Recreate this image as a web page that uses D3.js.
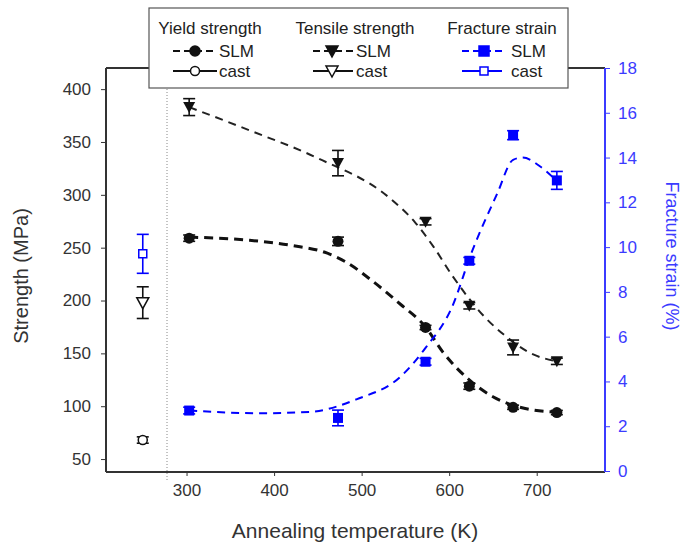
<!DOCTYPE html>
<html>
<head>
<meta charset="utf-8">
<script src="https://cdn.jsdelivr.net/npm/d3@7"></script>
<style>
  body { margin: 0; background: #fff; }
  text { font-family: Arial, "Liberation Sans", sans-serif; }
</style>
</head>
<body>
<script>
// annealed SLM samples
const temps = [303, 473, 573, 623, 673, 723];
const yieldSLM = [259, 256, 174.5, 119, 99, 94];
const yieldErr = [3, 4, 2, 3, 2, 2];
const tensileSLM = [383, 330, 274.5, 195, 155.6, 142.5];
const tensileErr = [8, 12, 3, 3, 7, 3];
const strainSLM = [2.7, 2.37, 4.88, 9.39, 15.0, 12.98];
const strainErr = [0.15, 0.35, 0.15, 0.15, 0.2, 0.4];

// cast reference, plotted at 250 K
const castT = 250;
const yieldCast = 68, yieldCastErr = 3;
const tensileCast = 198, tensileCastErr = 15;
const strainCast = 9.7, strainCastErr = 0.87;

// dashed fit curves
const yieldFit = [[303,260],[372,257],[421,252],[460,245],[483,236],[513,218],[545,196],[573,175],[593,151],[620,127],[650,109],[692,97],[723,94.5]];
const tensileFit = [[303,383],[372,361],[449,335],[532,297],[561,274],[582,251],[604,223],[641,184],[662,168],[696,149],[723,142.5]];
const strainFit = [[303,2.7],[384,2.58],[441,2.64],[494,3.2],[544,4.2],[573,5.5],[603,7.3],[626,9.8],[655,12.4],[673,13.9],[684,14.0],[704,13.6],[723,12.95]];

const xTicks = [300, 400, 500, 600, 700];
const yTicks = [50, 100, 150, 200, 250, 300, 350, 400];
const rTicks = [0, 2, 4, 6, 8, 10, 12, 14, 16, 18];

const BLUE = '#0000ff';
const AXBLUE = '#3b3bff';

const svg = d3.select('body').append('svg')
    .attr('width', 683)
    .attr('height', 548);

const L = 106, R = 605, T = 68, B = 471;

const x = d3.scaleLinear().domain([208, 778]).range([L, R]);
const y = d3.scaleLinear().domain([38.7, 420]).range([B, T]);
const y2 = d3.scaleLinear().domain([0, 18]).range([B, T]);

// dotted break line
svg.append('line')
    .attr('x1', 167).attr('x2', 167)
    .attr('y1', T).attr('y2', B + 10)
    .attr('stroke', '#888').attr('stroke-width', 1)
    .attr('stroke-dasharray', '1,2');

// axes
const gx = svg.append('g').attr('transform', `translate(0,${B})`)
    .call(d3.axisBottom(x).tickValues(xTicks).tickSize(5).tickSizeOuter(0).tickPadding(8));
const gy = svg.append('g').attr('transform', `translate(${L},0)`)
    .call(d3.axisLeft(y).tickValues(yTicks).tickSize(5).tickSizeOuter(0).tickPadding(10));
const gr = svg.append('g').attr('transform', `translate(${R},0)`)
    .call(d3.axisRight(y2).tickValues(rTicks).tickSize(5).tickSizeOuter(0).tickPadding(8));

[gx, gy, gr].forEach(g => {
    g.select('.domain').remove();
    g.selectAll('text').style('font-size', '17px');
});
gx.selectAll('line').attr('stroke', '#333');
gy.selectAll('line').attr('stroke', '#333');
gx.selectAll('text').attr('fill', '#333');
gy.selectAll('text').attr('fill', '#333');
gr.selectAll('line').attr('stroke', AXBLUE);
gr.selectAll('text').attr('fill', AXBLUE);

// frame
svg.append('line').attr('x1', L).attr('x2', L).attr('y1', T).attr('y2', B + 1)
    .attr('stroke', '#333').attr('stroke-width', 2);
svg.append('line').attr('x1', L).attr('x2', R).attr('y1', B + 1).attr('y2', B + 1)
    .attr('stroke', '#333').attr('stroke-width', 2);
svg.append('line').attr('x1', L).attr('x2', R).attr('y1', T).attr('y2', T)
    .attr('stroke', '#333').attr('stroke-width', 2);
svg.append('line').attr('x1', R).attr('x2', R).attr('y1', T).attr('y2', B + 1)
    .attr('stroke', AXBLUE).attr('stroke-width', 2);

// axis titles
svg.append('text')
    .attr('transform', 'translate(28,276) rotate(-90)')
    .attr('text-anchor', 'middle')
    .style('font-size', '20px').attr('fill', '#333')
    .text('Strength (MPa)');
svg.append('text')
    .attr('transform', 'translate(666,256) rotate(90)')
    .attr('text-anchor', 'middle')
    .style('font-size', '18px').attr('fill', AXBLUE)
    .text('Fracture strain (%)');
svg.append('text')
    .attr('x', 355).attr('y', 538)
    .attr('text-anchor', 'middle')
    .style('font-size', '21px').attr('fill', '#333')
    .text('Annealing temperature (K)');

// fit curves
const lineL = d3.line().x(d => x(d[0])).y(d => y(d[1])).curve(d3.curveMonotoneX);
const lineR = d3.line().x(d => x(d[0])).y(d => y2(d[1])).curve(d3.curveMonotoneX);

svg.append('path').attr('d', lineL(yieldFit))
    .attr('fill', 'none').attr('stroke', '#111').attr('stroke-width', 3)
    .attr('stroke-dasharray', '9,6');
svg.append('path').attr('d', lineL(tensileFit))
    .attr('fill', 'none').attr('stroke', '#222').attr('stroke-width', 2)
    .attr('stroke-dasharray', '8,6');
svg.append('path').attr('d', lineR(strainFit))
    .attr('fill', 'none').attr('stroke', BLUE).attr('stroke-width', 2)
    .attr('stroke-dasharray', '8,6');

// error bars
function errBars(vals, errs, scale, color, xs) {
    const g = svg.append('g').attr('stroke', color).attr('stroke-width', 1.6);
    vals.forEach((v, i) => {
        const cx = x(xs[i]);
        const y0 = scale(v - errs[i]), y1 = scale(v + errs[i]);
        g.append('line').attr('x1', cx).attr('x2', cx).attr('y1', y0).attr('y2', y1);
        g.append('line').attr('x1', cx - 6).attr('x2', cx + 6).attr('y1', y0).attr('y2', y0);
        g.append('line').attr('x1', cx - 6).attr('x2', cx + 6).attr('y1', y1).attr('y2', y1);
    });
}
errBars(yieldSLM, yieldErr, y, '#111', temps);
errBars(tensileSLM, tensileErr, y, '#111', temps);
errBars(strainSLM, strainErr, y2, BLUE, temps);
errBars([yieldCast], [yieldCastErr], y, '#111', [castT]);
errBars([tensileCast], [tensileCastErr], y, '#111', [castT]);
errBars([strainCast], [strainCastErr], y2, BLUE, [castT]);

// markers
const triDown = 'M-6,-5L6,-5L0,6Z';
const sq = 'M-5,-5L5,-5L5,5L-5,5Z';

svg.selectAll('.ys').data(yieldSLM).enter().append('circle')
    .attr('cx', (d, i) => x(temps[i])).attr('cy', d => y(d))
    .attr('r', 5.5).attr('fill', '#111');
svg.selectAll('.ts').data(tensileSLM).enter().append('path')
    .attr('d', triDown)
    .attr('transform', (d, i) => `translate(${x(temps[i])},${y(d)})`)
    .attr('fill', '#111');
svg.selectAll('.ss').data(strainSLM).enter().append('path')
    .attr('d', sq)
    .attr('transform', (d, i) => `translate(${x(temps[i])},${y2(d)})`)
    .attr('fill', BLUE);

svg.append('circle').attr('cx', x(castT)).attr('cy', y(yieldCast))
    .attr('r', 4.5).attr('fill', '#fff').attr('stroke', '#111').attr('stroke-width', 1.5);
svg.append('path').attr('d', triDown)
    .attr('transform', `translate(${x(castT)},${y(tensileCast)})`)
    .attr('fill', '#fff').attr('stroke', '#111').attr('stroke-width', 1.5);
svg.append('path').attr('d', 'M-4,-4L4,-4L4,4L-4,4Z')
    .attr('transform', `translate(${x(castT)},${y2(strainCast)})`)
    .attr('fill', '#fff').attr('stroke', BLUE).attr('stroke-width', 1.5);

// legend
const lg = svg.append('g');
lg.append('rect').attr('x', 149).attr('y', 8).attr('width', 419).attr('height', 80)
    .attr('fill', '#fff').attr('stroke', '#555').attr('stroke-width', 1.2);

const legendCols = [
    { title: 'Yield strength', tx: 210, lx0: 173, lx1: 217, mx: 195, sx: 219, color: '#111', kind: 'circle' },
    { title: 'Tensile strength', tx: 355, lx0: 313, lx1: 353, mx: 332, sx: 356, color: '#111', kind: 'tri' },
    { title: 'Fracture strain', tx: 502, lx0: 462, lx1: 502, mx: 484, sx: 511, color: BLUE, kind: 'sq' }
];
legendCols.forEach(c => {
    lg.append('text').attr('x', c.tx).attr('y', 34).attr('text-anchor', 'middle')
        .style('font-size', '17px').attr('fill', '#222').text(c.title);
    [{ row: 'SLM', yy: 51, filled: true }, { row: 'cast', yy: 71, filled: false }].forEach(r => {
        lg.append('line').attr('x1', c.lx0).attr('x2', c.lx1).attr('y1', r.yy).attr('y2', r.yy)
            .attr('stroke', c.color).attr('stroke-width', 2)
            .attr('stroke-dasharray', r.filled ? '7,4' : null);
        const fill = r.filled ? c.color : '#fff';
        if (c.kind === 'circle') {
            lg.append('circle').attr('cx', c.mx).attr('cy', r.yy).attr('r', r.filled ? 5 : 4.5)
                .attr('fill', fill).attr('stroke', c.color).attr('stroke-width', 1.5);
        } else if (c.kind === 'tri') {
            lg.append('path').attr('d', triDown).attr('transform', `translate(${c.mx},${r.yy})`)
                .attr('fill', fill).attr('stroke', c.color).attr('stroke-width', 1.5);
        } else {
            lg.append('path').attr('d', r.filled ? sq : 'M-4,-4L4,-4L4,4L-4,4Z')
                .attr('transform', `translate(${c.mx},${r.yy})`)
                .attr('fill', fill).attr('stroke', c.color).attr('stroke-width', 1.5);
        }
        lg.append('text').attr('x', c.sx).attr('y', r.yy + 6)
            .style('font-size', '17px').attr('fill', '#222').text(r.row);
    });
});
</script>
</body>
</html>
